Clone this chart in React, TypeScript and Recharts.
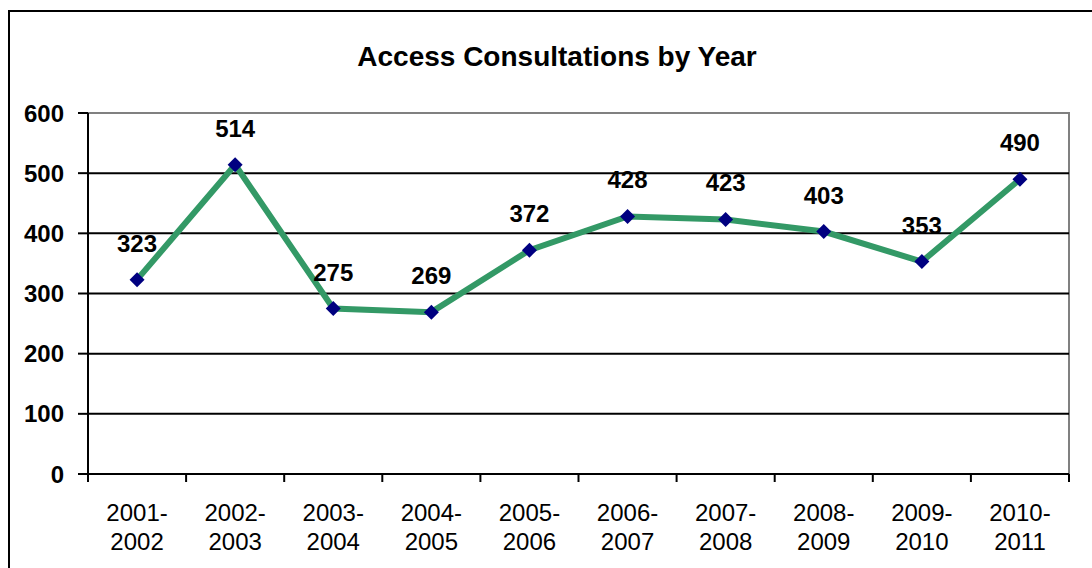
import { LineChart, Line, XAxis, YAxis, ReferenceLine, LabelList } from 'recharts'

const years = [
  '2001-2002',
  '2002-2003',
  '2003-2004',
  '2004-2005',
  '2005-2006',
  '2006-2007',
  '2007-2008',
  '2008-2009',
  '2009-2010',
  '2010-2011',
]
const consultations = [323, 514, 275, 269, 372, 428, 423, 403, 353, 490]
const yTicks = [0, 100, 200, 300, 400, 500, 600]
const gridValues = [100, 200, 300, 400, 500]

// each year sits in the middle of its band, band edges get the tick marks
const data = years.map((year, i) => ({ x: i + 0.5, year, value: consultations[i] }))
const bandEdges = years.map((_, i) => i).concat(years.length)
const bandMiddles = data.map((d) => d.x)

const FONT = '"Liberation Sans", Arial, sans-serif'

function YearTick(props: any) {
  const { x, y, payload } = props
  const year = years[Math.floor(payload.value)] ?? ''
  const [first, second] = year.split('-')
  return (
    <text x={x} y={y} textAnchor="middle" fontFamily={FONT} fontSize={24} fill="#000">
      <tspan x={x} dy={39}>{first}-</tspan>
      <tspan x={x} dy={29}>{second}</tspan>
    </text>
  )
}

function NoText() {
  return <g />
}

function Diamond(props: any) {
  const { cx, cy } = props
  if (cx == null || cy == null) return null
  const r = 7.5
  return (
    <polygon
      points={`${cx},${cy - r} ${cx + r},${cy} ${cx},${cy + r} ${cx - r},${cy}`}
      fill="#000080"
    />
  )
}

export default function App() {
  return (
    <div
      style={{
        position: 'absolute',
        left: 0,
        top: 0,
        width: 1092,
        height: 568,
        overflow: 'hidden',
        background: '#fff',
        fontFamily: FONT,
      }}
    >
      <div
        style={{
          position: 'absolute',
          left: 8,
          top: 10,
          width: 1200,
          height: 700,
          border: '2px solid #000',
        }}
      />
      <div
        style={{
          position: 'absolute',
          left: 11,
          top: 43,
          width: 1092,
          textAlign: 'center',
          fontSize: 28,
          lineHeight: '28px',
          fontWeight: 'bold',
          color: '#000',
        }}
      >
        Access Consultations by Year
      </div>
      {/* grey right side of the plot frame */}
      <div
        style={{
          position: 'absolute',
          left: 1068,
          top: 112,
          width: 2,
          height: 363,
          background: '#808080',
        }}
      />
      <div style={{ position: 'absolute', left: 0, top: 0 }}>
        <LineChart
          width={1092}
          height={568}
          data={data}
          margin={{ top: 113, right: 23, bottom: 0, left: 0 }}
        >
          <XAxis
            xAxisId="edges"
            type="number"
            dataKey="x"
            domain={[0, years.length]}
            ticks={bandEdges}
            tick={<NoText />}
            tickSize={8}
            height={8}
            axisLine={false}
            tickLine={{ stroke: '#000', strokeWidth: 2 }}
            interval={0}
          />
          <XAxis
            xAxisId="labels"
            type="number"
            dataKey="x"
            domain={[0, years.length]}
            ticks={bandMiddles}
            tick={<YearTick />}
            tickSize={0}
            tickMargin={0}
            height={86}
            axisLine={false}
            tickLine={false}
            interval={0}
          />
          <YAxis
            domain={[0, 600]}
            ticks={yTicks}
            width={88}
            tickSize={10}
            tickMargin={14}
            axisLine={{ stroke: '#000', strokeWidth: 2 }}
            tickLine={{ stroke: '#000', strokeWidth: 2 }}
            tick={{ fontSize: 24, fontWeight: 'bold', fill: '#000', fontFamily: FONT }}
            interval={0}
          />
          {gridValues.map((v) => (
            <ReferenceLine key={v} xAxisId="edges" y={v} stroke="#000" strokeWidth={2} />
          ))}
          <ReferenceLine xAxisId="edges" y={600} stroke="#808080" strokeWidth={2} />
          <ReferenceLine xAxisId="edges" y={0} stroke="#000" strokeWidth={2} />
          <Line
            xAxisId="edges"
            type="linear"
            dataKey="value"
            stroke="#339966"
            strokeWidth={6}
            dot={<Diamond />}
            activeDot={false}
            isAnimationActive={false}
          >
            <LabelList
              dataKey="value"
              position="top"
              offset={28}
              fill="#000"
              fontSize={24}
              fontWeight="bold"
              fontFamily={FONT}
            />
          </Line>
        </LineChart>
      </div>
    </div>
  )
}
